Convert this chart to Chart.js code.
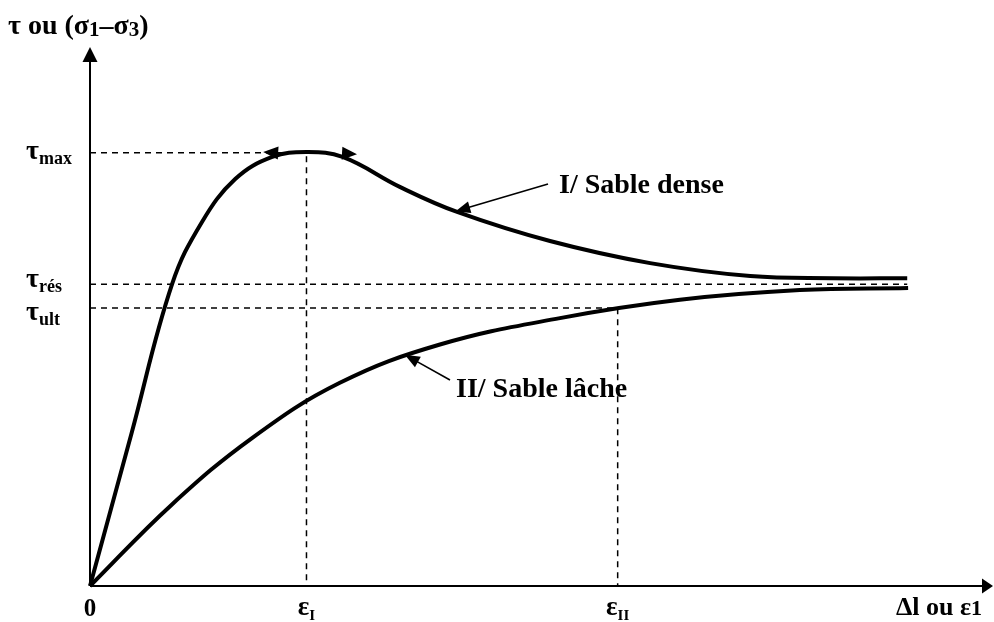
<!DOCTYPE html>
<html>
<head>
<meta charset="utf-8">
<script src="https://cdn.jsdelivr.net/npm/chart.js@4/dist/chart.umd.min.js"></script>
<style>
  html, body { margin: 0; padding: 0; background: #fff; }
  #wrap { width: 994px; height: 622px; position: relative; }
</style>
</head>
<body>
<div id="wrap"><canvas id="c"></canvas></div>
<script>
// Courbes effort–déformation (schéma, unités arbitraires 0–100)
const denseStrain = [0, 4.6, 9.1, 12.4, 16.1, 20.2, 24.0, 28.0, 34.4, 40.7, 51.0, 62.1, 73.2, 82.4, 90.6];
const denseStress = [0, 28.3, 56.0, 67.5, 75.5, 79.6, 80.5, 79.6, 74.0, 69.4, 64.0, 59.9, 57.5, 57.1, 57.1];

const looseStrain = [0, 9.0, 18.0, 27.7, 38.8, 52.1, 65.4, 78.7, 90.7];
const looseStress = [0, 15.0, 27.5, 37.7, 44.8, 49.7, 53.1, 54.9, 55.3];

// Niveaux caractéristiques
const tauMax = 80.4;
const tauRes = 56.0;
const tauUlt = 51.6;
const epsI = 24.0;
const epsII = 58.5;
const strainEnd = 90.6;

// Flèches de part et d'autre du pic (abscisse, ordonnée, sens)
const peakArrowX = [19.2, 29.6];
const peakArrowY = [80.5, 80.1];
const peakArrowDir = [-1, 1];

// Étiquettes des courbes et point visé sur chaque courbe
const curveLabels = ["I/ Sable dense", "II/ Sable lâche"];
const curveTipX = [40.5, 34.9];
const curveTipY = [69.5, 42.9];

const axisMax = 100;

const toPoints = (xs, ys) => xs.map((x, i) => ({ x: x, y: ys[i] }));

const FONT = '"Liberation Serif", "Times New Roman", serif';

function drawRich(ctx, x, y, parts) {
  let cx = x;
  for (const p of parts) {
    ctx.font = 'bold ' + p.size + 'px ' + FONT;
    ctx.fillText(p.t, cx, y + (p.dy || 0));
    cx += ctx.measureText(p.t).width;
  }
  return cx - x;
}
function richWidth(ctx, parts) {
  let w = 0;
  for (const p of parts) {
    ctx.font = 'bold ' + p.size + 'px ' + FONT;
    w += ctx.measureText(p.t).width;
  }
  return w;
}
function arrowHead(ctx, tx, ty, angle, len, half) {
  ctx.save();
  ctx.translate(tx, ty);
  ctx.rotate(angle);
  ctx.beginPath();
  ctx.moveTo(0, 0);
  ctx.lineTo(-len, -half);
  ctx.lineTo(-len, half);
  ctx.closePath();
  ctx.fill();
  ctx.restore();
}

const annotations = {
  id: 'annotations',
  afterDatasetsDraw(chart) {
    const ctx = chart.ctx;
    const xs = chart.scales.x, ys = chart.scales.y;
    const px = v => xs.getPixelForValue(v);
    const py = v => ys.getPixelForValue(v);
    ctx.save();
    ctx.fillStyle = '#000';
    ctx.strokeStyle = '#000';
    ctx.textBaseline = 'alphabetic';

    // Axes avec flèches
    const x0 = px(0), y0 = py(0);
    const xEnd = px(axisMax), yEnd = py(axisMax);
    ctx.lineWidth = 2;
    ctx.beginPath();
    ctx.moveTo(x0, y0);
    ctx.lineTo(x0, yEnd + 14);
    ctx.moveTo(x0, y0);
    ctx.lineTo(xEnd - 10, y0);
    ctx.stroke();
    arrowHead(ctx, x0, yEnd, -Math.PI / 2, 15, 7.5);
    arrowHead(ctx, xEnd + 1, y0, 0, 11, 7.5);

    // Flèches au pic de la courbe dense
    for (let i = 0; i < peakArrowX.length; i++) {
      const ang = peakArrowDir[i] < 0 ? Math.PI + 0.06 : 0.06;
      arrowHead(ctx, px(peakArrowX[i]), py(peakArrowY[i]), ang, 15, 6.5);
    }

    // Étiquettes des courbes avec flèches de renvoi
    ctx.lineWidth = 1.6;
    const labelAnchors = [
      { tx: 559, ty: 193, lx: 548, ly: 184 },
      { tx: 456, ty: 397, lx: 450, ly: 380 }
    ];
    for (let i = 0; i < curveLabels.length; i++) {
      const a = labelAnchors[i];
      const tipX = px(curveTipX[i]), tipY = py(curveTipY[i]);
      const ang = Math.atan2(tipY - a.ly, tipX - a.lx);
      ctx.beginPath();
      ctx.moveTo(a.lx, a.ly);
      ctx.lineTo(tipX - Math.cos(ang) * 10, tipY - Math.sin(ang) * 10);
      ctx.stroke();
      arrowHead(ctx, tipX, tipY, ang, 15, 6);
      ctx.font = 'bold 28px ' + FONT;
      ctx.fillText(curveLabels[i], a.tx, a.ty);
    }

    // Titre de l'axe vertical
    drawRich(ctx, 8, 34, [
      { t: 'τ ou (σ', size: 28 },
      { t: '1', size: 21, dy: 2 },
      { t: '–σ', size: 28 },
      { t: '3', size: 21, dy: 2 },
      { t: ')', size: 28 }
    ]);

    // Repères sur l'axe vertical
    const tauLabels = [
      { v: tauMax, sub: 'max', off: 6 },
      { v: tauRes, sub: 'rés', off: 3 },
      { v: tauUlt, sub: 'ult', off: 12 }
    ];
    for (const l of tauLabels) {
      drawRich(ctx, 26, py(l.v) + l.off, [
        { t: 'τ', size: 28 },
        { t: l.sub, size: 18, dy: 5 }
      ]);
    }

    // Repères sur l'axe horizontal
    ctx.font = 'bold 25px ' + FONT;
    ctx.textAlign = 'center';
    ctx.fillText('0', x0, 616);
    ctx.textAlign = 'left';
    const epsLabels = [
      { v: epsI, sub: 'I' },
      { v: epsII, sub: 'II' }
    ];
    for (const l of epsLabels) {
      const parts = [{ t: 'ε', size: 27 }, { t: l.sub, size: 15, dy: 5 }];
      const w = richWidth(ctx, parts);
      drawRich(ctx, px(l.v) - w / 2, 615, parts);
    }
    const xParts = [{ t: 'Δl ou ε', size: 26 }, { t: '1', size: 22 }];
    drawRich(ctx, 982 - richWidth(ctx, xParts), 615, xParts);

    ctx.restore();
  }
};

const dashed = { borderColor: '#000', borderWidth: 1.5, borderDash: [6, 5], pointRadius: 0, tension: 0, fill: false, clip: false };

new Chart(document.getElementById('c'), {
  type: 'scatter',
  data: {
    datasets: [
      Object.assign({ data: [{ x: 0, y: tauMax }, { x: epsI, y: tauMax }, { x: epsI, y: 0 }], showLine: true }, dashed),
      Object.assign({ data: [{ x: 0, y: tauRes }, { x: strainEnd, y: tauRes }], showLine: true }, dashed),
      Object.assign({ data: [{ x: 0, y: tauUlt }, { x: epsII, y: tauUlt }, { x: epsII, y: 0 }], showLine: true }, dashed),
      {
        label: 'I/ Sable dense',
        data: toPoints(denseStrain, denseStress),
        showLine: true, borderColor: '#000', borderWidth: 4, pointRadius: 0,
        tension: 0.4, fill: false, clip: false
      },
      {
        label: 'II/ Sable lâche',
        data: toPoints(looseStrain, looseStress),
        showLine: true, borderColor: '#000', borderWidth: 4, pointRadius: 0,
        tension: 0.4, fill: false, clip: false
      }
    ]
  },
  options: {
    responsive: true,
    maintainAspectRatio: false,
    animation: false,
    devicePixelRatio: 1,
    layout: { padding: { left: 90, top: 47, right: 2, bottom: 36 } },
    plugins: { legend: { display: false }, tooltip: { enabled: false } },
    scales: {
      x: { type: 'linear', min: 0, max: axisMax, display: false },
      y: { type: 'linear', min: 0, max: axisMax, display: false }
    }
  },
  plugins: [annotations]
});
</script>
</body>
</html>
